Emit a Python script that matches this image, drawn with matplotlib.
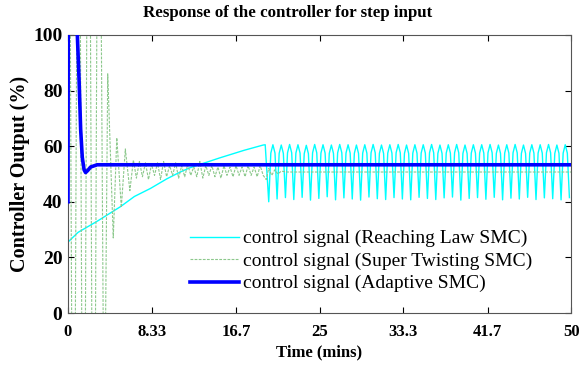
import numpy as np
import matplotlib
matplotlib.use("Agg")
from matplotlib import pyplot as plt

# ---- data (time in mins, output in %) ----
x_ticks = [0, 8.33, 16.7, 25, 33.3, 41.7, 50]
x_tick_labels = ["0", "8.33", "16.7", "25", "33.3", "41.7", "50"]
y_ticks = [0, 20, 40, 60, 80, 100]

# Reaching Law SMC: slow rise, then chattering
rl_ramp_t = [0, 1.0, 2.9, 5.2, 6.6, 8.2, 9.8, 11.1, 12.1, 15.1, 17.5, 19.4, 19.6]
rl_ramp_u = [25.5, 29.0, 33.0, 38.2, 41.9, 44.8, 48.2, 50.6, 52.2, 55.8, 58.5, 60.4, 60.5]
rl_chatter_start = 19.95
rl_chatter_period = 0.83
rl_peaks = [60.5, 60.4, 60.6, 60.5, 60.3, 60.6, 60.5, 60.4, 60.6, 60.5,
            60.4, 60.5, 60.6, 60.4, 60.5, 60.6, 60.4, 60.5, 60.5, 60.6,
            60.4, 60.5, 60.6, 60.4, 60.5, 60.5, 60.6, 60.4, 60.5, 60.6,
            60.4, 60.5, 60.5, 60.6, 60.4, 60.5]
rl_troughs = [40.0, 41.0, 41.5, 40.8, 41.6, 40.6, 41.2, 41.8, 40.7, 41.4,
              41.0, 40.6, 41.7, 41.1, 40.8, 41.5, 41.0, 40.7, 41.6, 41.2,
              40.8, 41.4, 41.7, 40.6, 41.2, 41.5, 40.9, 41.6, 40.7, 41.3,
              41.0, 41.6, 40.8, 41.4, 41.1, 40.7, 41.5]

# Super Twisting SMC: large swings, decaying ripple, small step near 19.6
st_early_t = [0.0, 0.05, 0.55, 1.05, 1.55, 2.05, 2.55, 3.05, 3.6, 3.95, 4.5, 4.85, 5.3, 5.7, 6.15, 6.5]
st_early_u = [50, 250, -150, 250, -150, 250, -150, 250, -60, 86, 27, 63, 38, 59, 44, 55]
st_ripple_dt = 0.3
st_ripple = [48.5, 54.5, 49.0, 54.0, 48.0, 53.5, 49.5, 54.0, 48.0, 54.5,
             49.0, 53.0, 49.5, 54.0, 48.5, 53.0, 49.0, 53.5, 49.5, 52.5,
             49.0, 54.5, 48.5, 53.0, 49.5, 53.0, 49.0, 52.5, 48.5, 53.0,
             49.5, 52.5, 49.0, 53.0, 49.5, 52.5, 49.0, 53.0, 49.5, 52.5,
             49.0, 53.0, 49.5]
st_late_t = [19.7, 19.95, 20.25, 20.55, 20.85, 21.2, 21.8, 50]
st_late_u = [48.0, 52.0, 49.5, 51.5, 50.0, 51.0, 50.7, 50.7]

# Adaptive SMC: fast settle at ~53.3
ad_t = [0, 0.04, 0.85, 0.93, 1.1, 1.26, 1.42, 1.6, 1.75, 1.95, 2.25, 2.9, 50]
ad_u = [40, 140, 110, 100, 84, 66, 56, 51.5, 50.5, 51.2, 52.5, 53.3, 53.3]

labels = ["control signal (Reaching Law SMC)",
          "control signal (Super Twisting SMC)",
          "control signal (Adaptive SMC)"]


def build_reaching_law():
    t = list(rl_ramp_t)
    u = list(rl_ramp_u)
    p = rl_chatter_period
    for k, peak in enumerate(rl_peaks):
        t0 = rl_chatter_start + k * p
        # narrow trough, rounded top
        t += [t0, t0 + 0.25 * p, t0 + 0.5 * p, t0 + 0.75 * p]
        u += [rl_troughs[k], peak - 3.0, peak, peak - 3.0]
    t.append(rl_chatter_start + len(rl_peaks) * p)
    u.append(rl_troughs[len(rl_peaks)])
    return np.array(t), np.array(u)


def build_super_twisting():
    t = list(st_early_t)
    u = list(st_early_u)
    for k, val in enumerate(st_ripple, 1):
        t.append(st_early_t[-1] + k * st_ripple_dt)
        u.append(val)
    t += st_late_t
    u += st_late_u
    return np.array(t), np.array(u)


def main():
    plt.rcParams["font.family"] = ["Liberation Serif", "DejaVu Serif"]
    plt.rcParams["path.simplify"] = False
    fig = plt.figure(figsize=(5.81, 3.67), dpi=100)
    ax = fig.add_axes([0.117, 0.147, 0.866, 0.758])

    rl_t, rl_u = build_reaching_law()
    st_t, st_u = build_super_twisting()

    ax.plot(rl_t, rl_u, color="#00FFFF", lw=1.0, label=labels[0])
    ax.plot(st_t, st_u, color="#8CC88C", lw=0.8, linestyle=(0, (2.5, 1.2)), label=labels[1])
    ax.plot(ad_t, ad_u, color="#0000FF", lw=2.6, label=labels[2], zorder=3)

    ax.set_xlim(0, 50)
    ax.set_ylim(0, 100)
    ax.set_xticks(x_ticks)
    ax.set_xticklabels(x_tick_labels)
    ax.set_yticks(y_ticks)
    ax.tick_params(direction="in", top=True, right=True, length=4, width=0.8)
    ax.tick_params(axis="x", labelsize=12, pad=8)
    ax.tick_params(axis="y", labelsize=14, pad=4)
    for lab in ax.get_xticklabels() + ax.get_yticklabels():
        lab.set_fontweight("bold")
    for s in ax.spines.values():
        s.set_color("#555555")
        s.set_linewidth(0.8)

    fig.text(288 / 581, 1 - 13 / 367, "Response of the controller for step input",
             fontsize=12.2, fontweight="bold", ha="center", va="center")
    ax.set_xlabel("Time (mins)", fontsize=12, fontweight="bold", labelpad=3)
    ax.set_ylabel("Controller Output (%)", fontsize=14.5, fontweight="bold", labelpad=2)

    ax.legend(loc="lower left", bbox_to_anchor=(0.228, 0.046), frameon=False,
              fontsize=14, handlelength=2.5, handletextpad=0.2,
              labelspacing=0.25, borderaxespad=0)

    fig.savefig("out.png", dpi=100)


if __name__ == "__main__":
    main()
